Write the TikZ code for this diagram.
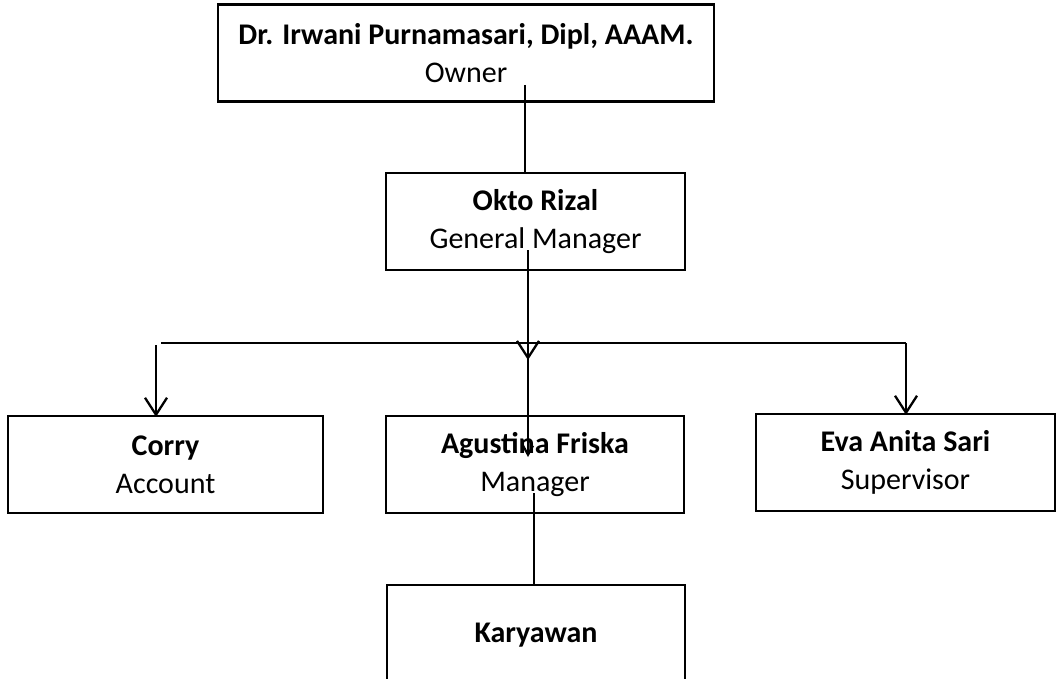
\documentclass[tikz,border=0pt]{standalone}
\usepackage{fontspec}
\setmainfont{Carlito}
\usetikzlibrary{arrows.meta}
\begin{document}
\begin{tikzpicture}[x=1pt,y=-1pt,
  box/.style={draw=black,line width=2.3pt,rectangle,inner sep=0pt,align=center,
    font=\fontsize{30}{38}\selectfont},
  conn/.style={draw=black,line width=2.3pt},
  arr/.style={conn,-{Straight Barb[length=17pt,width=22pt,line width=2.3pt]}},
  smallarr/.style={conn,-{Straight Barb[length=9pt,width=10pt,line width=2.3pt]}}]
\useasboundingbox (0,0) rectangle (1059,679);
\fill[white] (0,0) rectangle (1059,679);
\node[box,minimum width=496pt,minimum height=97pt] (owner) at (466,53)
  {\textbf{Dr. Irwani Purnamasari, Dipl, AAAM.}\\Owner};
\node[box,minimum width=299pt,minimum height=97pt] (gm) at (535.5,221.5)
  {\textbf{Okto Rizal}\\General Manager};
\node[box,minimum width=315pt,minimum height=97pt] (corry) at (165.5,464.5)
  {\textbf{Corry}\\Account};
\node[box,minimum width=298pt,minimum height=97pt] (agus) at (535,464.5)
  {\textbf{Agustina Friska}\\Manager};
\node[box,minimum width=299pt,minimum height=97pt] (eva) at (905.5,462.5)
  {\textbf{Eva Anita Sari}\\Supervisor};
\node[box,minimum width=298pt,minimum height=100pt] (kary) at (536,635)
  {\textbf{Karyawan}};
\coordinate (o1) at (525,85);
\coordinate (g1) at (528,250);
\coordinate (g2) at (528,360);
\coordinate (g3) at (528,343);
\coordinate (a1) at (528,457);
\coordinate (busL) at (161,343);
\coordinate (busR) at (906,343);
\coordinate (l1) at (156,345);
\coordinate (a2) at (534,493);
\draw[conn] (o1) -- (o1 |- gm.north);
\draw[conn] (busL) -- (busR);
\draw[arr] (g1) -- (g2);
\draw[smallarr] (g3) -- (a1);
\draw[arr] (l1) -- ([yshift=-2pt]l1 |- corry.north);
\draw[arr] (busR) -- ([yshift=-2pt]busR |- eva.north);
\draw[conn] (a2) -- (a2 |- kary.north);
\end{tikzpicture}
\end{document}
